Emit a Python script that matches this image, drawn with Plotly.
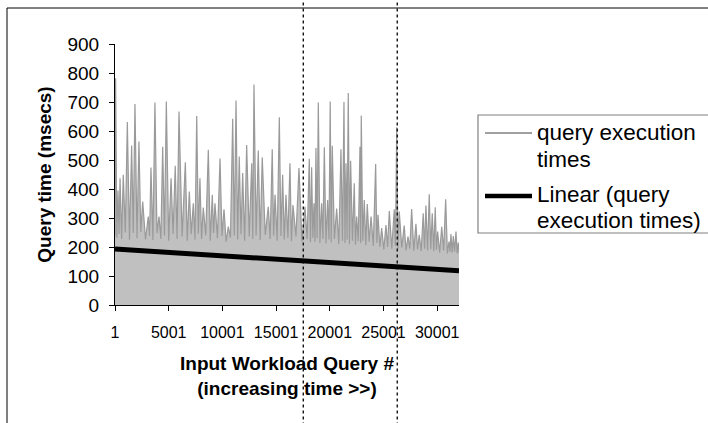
import plotly.graph_objects as go

# ---- data ----
queries = [
    1, 60, 170, 280, 380, 470, 620, 770, 960, 1150, 1350, 1550, 1700, 1860, 2050, 2230,
    2400, 2580, 2840, 3100, 3220, 3350, 3530, 3720, 3910, 4100, 4270, 4440, 4610, 4780,
    5000, 5220, 5410, 5610, 5780, 5960, 6250, 6550, 6730, 6920, 7100, 7290, 7450, 7610,
    7760, 7910, 8060, 8220, 8450, 8690, 8870, 9060, 9180, 9310, 9540, 9780, 9960, 10150,
    10350, 10550, 10750, 10960, 11110, 11270, 11420, 11570, 11730, 11890, 12070, 12260,
    12500, 12730, 12830, 12940, 13140, 13340, 13520, 13710, 13990, 14270, 14450, 14640,
    14770, 14900, 15100, 15300, 15450, 15610, 15760, 15920, 16100, 16290, 16430, 16570,
    16850, 17130, 17410, 17690, 17890, 18090, 18200, 18310, 18420, 18530, 18620, 18710,
    18820, 18930, 19080, 19240, 19360, 19490, 19640, 19800, 19920, 20040, 20130, 20230,
    20430, 20640, 20840, 21040, 21180, 21320, 21410, 21510, 21610, 21720, 21830, 21940,
    22110, 22280, 22390, 22500, 22650, 22810, 22870, 22930, 23070, 23210, 23350, 23490,
    23660, 23840, 24050, 24270, 24380, 24490, 24660, 24830, 25030, 25230, 25380, 25540,
    25770, 26000, 26110, 26230, 26350, 26470, 26700, 26930, 27100, 27280, 27450, 27620,
    27820, 28020, 28170, 28330, 28510, 28700, 28820, 28950, 29100, 29260, 29400, 29540,
    29680, 29820, 29930, 30040, 30230, 30420, 30600, 30790, 30950, 31100, 31190, 31280,
    31390, 31500, 31620, 31750, 31850, 31960, 32030,
]
times = [
    240, 782, 232, 395, 245, 437, 228, 449, 250, 631, 225, 550, 248, 693, 230, 564,
    252, 357, 226, 305, 238, 474, 224, 698, 248, 305, 228, 546, 240, 702,
    222, 437, 245, 480, 228, 667, 236, 492, 222, 391, 244, 351, 226, 652,
    246, 437, 228, 336, 240, 535, 222, 380, 248, 351, 230, 505, 238, 330,
    218, 270, 232, 642, 240, 705, 226, 512, 244, 455, 222, 552,
    236, 489, 228, 760, 240, 533, 224, 509, 242, 339, 228, 537,
    240, 380, 222, 647, 238, 449, 226, 380, 232, 489, 220, 345,
    236, 472, 218, 339, 228, 504, 216, 475, 232, 351, 218, 541,
    230, 698, 214, 351, 228, 544, 212, 362, 226, 702, 216, 549,
    228, 333, 210, 537, 222, 700, 214, 489, 226, 731, 210, 497,
    222, 420, 208, 305, 220, 546, 214, 653, 222, 362, 206, 348,
    218, 305, 204, 486, 214, 311, 200, 265, 192, 276, 200, 324,
    194, 330, 204, 613, 194, 322, 198, 274, 188, 236, 194, 331,
    186, 280, 192, 242, 186, 316, 194, 343, 188, 382, 192, 316,
    185, 337, 190, 253, 180, 270, 188, 365, 178, 219, 184, 245,
    180, 238, 184, 253, 178, 215, 180,
]
assert len(queries) == len(times)

trend_queries = [1, 32030]
trend_times = [193, 118]

event_queries = [17530, 26280]

x_tickvals = [1, 5001, 10001, 15001, 20001, 25001, 30001]
x_ticktext = ["1", "5001", "10001", "15001", "20001", "25001", "30001"]
y_tickvals = [0, 100, 200, 300, 400, 500, 600, 700, 800, 900]

legend_lines_series = ["query execution", "times"]
legend_lines_trend = ["Linear (query", "execution times)"]

FONT = "Liberation Sans, Arial, sans-serif"

# plot area in pixels: left 115, right 459, top 44, bottom 305
L, R, T, B = 115, 459, 44, 305
def px(xp):
    return (xp - L) / (R - L)
def py(yp):
    return (B - yp) / (B - T)

fig = go.Figure()

fig.add_trace(go.Scatter(
    x=queries, y=times, mode="lines",
    line=dict(color="#9a9a9a", width=1.2),
    fill="tozeroy", fillcolor="#c0c0c0",
    showlegend=False, hoverinfo="skip",
))
fig.add_trace(go.Scatter(
    x=trend_queries, y=trend_times, mode="lines",
    line=dict(color="black", width=5),
    showlegend=False,
))

shapes = []
for q in event_queries:
    shapes.append(dict(
        type="line", xref="x", yref="paper",
        x0=q, x1=q, y0=-0.6, y1=1.3,
        line=dict(color="black", width=1.3, dash="dot"),
    ))
# outer chart border
shapes.append(dict(
    type="rect", xref="paper", yref="paper",
    x0=px(7), x1=px(730), y0=py(440), y1=py(8),
    line=dict(color="black", width=1), fillcolor="rgba(0,0,0,0)",
))
# legend box
shapes.append(dict(
    type="rect", xref="paper", yref="paper",
    x0=px(478), x1=px(730), y0=py(233), y1=py(115),
    line=dict(color="#808080", width=1.2), fillcolor="white",
))
# legend symbols
shapes.append(dict(
    type="line", xref="paper", yref="paper",
    x0=px(485), x1=px(532), y0=py(133), y1=py(133),
    line=dict(color="#a0a0a0", width=2),
))
shapes.append(dict(
    type="line", xref="paper", yref="paper",
    x0=px(485), x1=px(532), y0=py(196), y1=py(196),
    line=dict(color="black", width=4.5),
))

annotations = []
for text, yp in zip(legend_lines_series + legend_lines_trend, [132, 159, 194, 220]):
    annotations.append(dict(
        text=text, xref="paper", yref="paper", x=px(535), y=py(yp),
        xanchor="left", yanchor="middle", showarrow=False,
        font=dict(family=FONT, size=22.5, color="black"),
    ))

fig.update_layout(
    width=708, height=423,
    margin=dict(l=L, r=708 - R, t=T, b=423 - B),
    paper_bgcolor="white", plot_bgcolor="white",
    font=dict(family=FONT, color="black"),
    shapes=shapes,
    annotations=annotations,
    showlegend=False,
    xaxis=dict(
        range=[1, 32030], tickmode="array", tickvals=x_tickvals, ticktext=x_ticktext,
        ticks="outside", ticklen=5, tickcolor="black", showline=True, linecolor="black",
        showgrid=False, zeroline=False, tickfont=dict(size=16),
        ticklabelstandoff=8,
        title=dict(text="<b>Input Workload Query #<br>(increasing time >>)</b>",
                   font=dict(size=19), standoff=16),
    ),
    yaxis=dict(
        range=[0, 900], tickmode="array", tickvals=y_tickvals,
        ticks="outside", ticklen=5, tickcolor="black", showline=True, linecolor="black",
        showgrid=False, zeroline=False, tickfont=dict(size=19),
        ticklabelstandoff=6,
        title=dict(text="<b>Query time (msecs)</b>", font=dict(size=19), standoff=10),
    ),
)

fig.write_html(
    "out.html",
    config={"displayModeBar": False},
    post_script="document.body.style.margin='0px';document.body.style.overflow='hidden';",
)
